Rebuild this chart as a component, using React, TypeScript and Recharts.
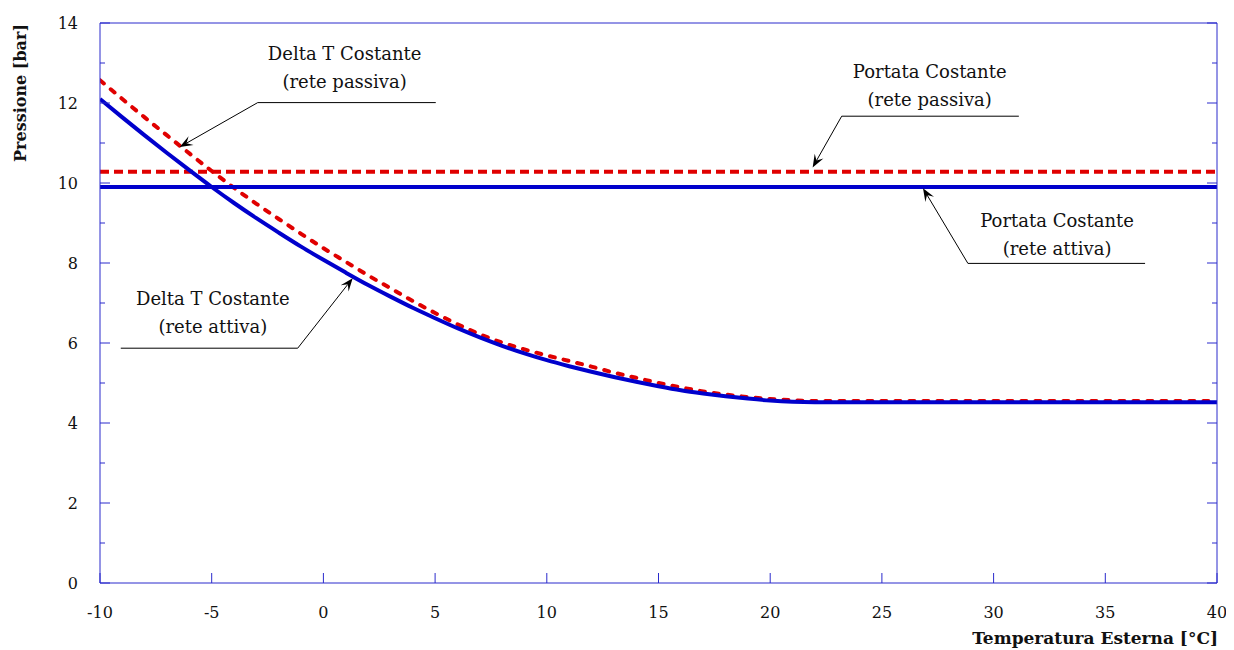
import React from "react";
import { LineChart, Line, XAxis, YAxis, ReferenceLine, ReferenceDot } from "recharts";

// temperature samples for the Delta T curves
const tempX = [
  -10, -9, -8, -7, -6, -5, -4, -3, -2, -1, 0, 1, 2, 3, 4, 5, 6, 7, 8, 9, 10,
  11, 12, 13, 14, 15, 16, 17, 18, 19, 20, 21, 22, 40,
];
const deltaTAttiva = [
  12.1, 11.64, 11.19, 10.75, 10.32, 9.9, 9.5, 9.12, 8.76, 8.41, 8.08, 7.76,
  7.45, 7.16, 6.88, 6.62, 6.37, 6.14, 5.93, 5.74, 5.57, 5.42, 5.28, 5.15,
  5.03, 4.92, 4.82, 4.74, 4.67, 4.61, 4.56, 4.53, 4.52, 4.52,
];
const deltaTPassiva = [
  12.57, 12.1, 11.64, 11.19, 10.74, 10.3, 9.88, 9.48, 9.1, 8.73, 8.37, 8.03,
  7.69, 7.37, 7.05, 6.75, 6.47, 6.22, 6.01, 5.84, 5.69, 5.55, 5.41, 5.26,
  5.13, 5.0, 4.89, 4.79, 4.71, 4.65, 4.6, 4.57, 4.55, 4.55,
];

// constant flow lines
const portataX = [-10, 40];
const portataAttiva = [9.9, 9.9];
const portataPassiva = [10.28, 10.28];

const xTicks = [-10, -5, 0, 5, 10, 15, 20, 25, 30, 35, 40];
const yTicks = [0, 1, 2, 3, 4, 5, 6, 7, 8, 9, 10, 11, 12, 13, 14];

// callouts: text anchor, underline and arrow, all in data units
const callouts = [
  { lines: ["Delta T Costante", "(rete passiva)"], text: [0.95, 13.07], under: [5.03, -2.94, 12.01], tip: [-6.43, 10.9] },
  { lines: ["Portata Costante", "(rete passiva)"], text: [27.14, 12.62], under: [31.13, 23.2, 11.67], tip: [21.9, 10.39] },
  { lines: ["Portata Costante", "(rete attiva)"], text: [32.84, 8.89], under: [36.78, 28.85, 7.99], tip: [26.84, 9.87] },
  { lines: ["Delta T Costante", "(rete attiva)"], text: [-4.95, 6.94], under: [-9.07, -1.15, 5.87], tip: [1.31, 7.62] },
];

const BLUE = "#0000cc";
const RED = "#e00000";
const FRAME = "#2a2acc";
const FONT = "DejaVu Serif";

const deltaData = tempX.map((x, i) => ({ x, attiva: deltaTAttiva[i], passiva: deltaTPassiva[i] }));
const portataAttivaData = portataX.map((x, i) => ({ x, y: portataAttiva[i] }));
const portataPassivaData = portataX.map((x, i) => ({ x, y: portataPassiva[i] }));

function BottomTick(props: any) {
  const { x, y, payload } = props;
  const axisY = y - 29;
  return (
    <g>
      <line x1={x} x2={x} y1={axisY} y2={axisY - 10} stroke={FRAME} />
      <text x={x} y={y} dy="0.35em" textAnchor="middle" fontFamily={FONT} fontSize={16} fill="#111">
        {payload.value}
      </text>
    </g>
  );
}

function TopTick(props: any) {
  const { x, y } = props;
  return <line x1={x} x2={x} y1={y} y2={y + 10} stroke={FRAME} />;
}

function LeftTick(props: any) {
  const { x, y, payload } = props;
  const axisX = x + 22;
  const major = payload.value % 2 === 0;
  return (
    <g>
      <line x1={axisX} x2={axisX + (major ? 10 : 5)} y1={y} y2={y} stroke={FRAME} />
      {major && (
        <text x={x} y={y} dy="0.35em" textAnchor="end" fontFamily={FONT} fontSize={16} fill="#111">
          {payload.value}
        </text>
      )}
    </g>
  );
}

function RightTick(props: any) {
  const { x, y, payload } = props;
  const major = payload.value % 2 === 0;
  return <line x1={x} x2={x - (major ? 10 : 5)} y1={y} y2={y} stroke={FRAME} />;
}

function Arrow(props: any) {
  const { x1, y1, x2, y2 } = props;
  const a = Math.atan2(y2 - y1, x2 - x1);
  const c = Math.cos(a);
  const s = Math.sin(a);
  const L = 13;
  const W = 5;
  const pts = [
    [x2, y2],
    [x2 - L * c - W * s, y2 - L * s + W * c],
    [x2 - 0.6 * L * c, y2 - 0.6 * L * s],
    [x2 - L * c + W * s, y2 - L * s - W * c],
  ]
    .map((p) => p.join(","))
    .join(" ");
  return (
    <g>
      <line x1={x1} y1={y1} x2={x2 - 0.6 * L * c} y2={y2 - 0.6 * L * s} stroke="#000" strokeWidth={1} />
      <polygon points={pts} fill="#000" />
    </g>
  );
}

function Underline(props: any) {
  const { x1, y1, x2, y2 } = props;
  return <line x1={x1} y1={y1} x2={x2} y2={y2} stroke="#000" strokeWidth={1} />;
}

function calloutText(lines: string[]) {
  return (props: any) => (
    <text x={props.cx} y={props.cy} textAnchor="middle" fontFamily={FONT} fontSize={18} fill="#111">
      <tspan x={props.cx} dy={0}>{lines[0]}</tspan>
      <tspan x={props.cx} dy={28}>{lines[1]}</tspan>
    </text>
  );
}

export default function App() {
  return (
    <div style={{ position: "relative", width: 1226, height: 642 }}>
      <LineChart width={1226} height={642} margin={{ top: 0, right: 0, bottom: 0, left: 0 }}>
        <XAxis
          dataKey="x"
          type="number"
          domain={[-10, 40]}
          ticks={xTicks}
          interval={0}
          allowDataOverflow
          height={67}
          tickSize={0}
          tickMargin={29}
          tickLine={false}
          axisLine={{ stroke: FRAME }}
          tick={BottomTick}
        />
        <XAxis
          xAxisId="top"
          orientation="top"
          type="number"
          domain={[-10, 40]}
          ticks={xTicks}
          interval={0}
          allowDataOverflow
          height={15}
          tickSize={0}
          tickMargin={0}
          tickLine={false}
          axisLine={{ stroke: FRAME }}
          tick={TopTick}
        />
        <YAxis
          type="number"
          domain={[0, 14]}
          ticks={yTicks}
          interval={0}
          allowDataOverflow
          width={92}
          tickSize={0}
          tickMargin={22}
          tickLine={false}
          axisLine={{ stroke: FRAME }}
          tick={LeftTick}
        />
        <YAxis
          yAxisId="right"
          orientation="right"
          type="number"
          domain={[0, 14]}
          ticks={yTicks}
          interval={0}
          allowDataOverflow
          width={17}
          tickSize={0}
          tickMargin={0}
          tickLine={false}
          axisLine={{ stroke: FRAME }}
          tick={RightTick}
        />

        <Line
          data={portataPassivaData}
          dataKey="y"
          type="linear"
          stroke={RED}
          strokeWidth={4}
          strokeDasharray="9 5"
          dot={false}
          activeDot={false}
          isAnimationActive={false}
        />
        <Line
          data={deltaData}
          dataKey="passiva"
          type="monotone"
          stroke={RED}
          strokeWidth={4}
          strokeDasharray="5 9"
          strokeLinecap="round"
          dot={false}
          activeDot={false}
          isAnimationActive={false}
        />
        <Line
          data={portataAttivaData}
          dataKey="y"
          type="linear"
          stroke={BLUE}
          strokeWidth={4}
          dot={false}
          activeDot={false}
          isAnimationActive={false}
        />
        <Line
          data={deltaData}
          dataKey="attiva"
          type="monotone"
          stroke={BLUE}
          strokeWidth={4}
          dot={false}
          activeDot={false}
          isAnimationActive={false}
        />

        {callouts.map((c, i) => (
          <ReferenceLine
            key={`u${i}`}
            segment={[
              { x: c.under[0], y: c.under[2] },
              { x: c.under[1], y: c.under[2] },
            ]}
            ifOverflow="visible"
            shape={Underline}
          />
        ))}
        {callouts.map((c, i) => (
          <ReferenceLine
            key={`a${i}`}
            segment={[
              { x: c.under[1], y: c.under[2] },
              { x: c.tip[0], y: c.tip[1] },
            ]}
            ifOverflow="visible"
            shape={Arrow}
          />
        ))}
        {callouts.map((c, i) => (
          <ReferenceDot
            key={`t${i}`}
            x={c.text[0]}
            y={c.text[1]}
            r={0}
            ifOverflow="visible"
            shape={calloutText(c.lines)}
          />
        ))}
      </LineChart>

      <div
        style={{
          position: "absolute",
          left: 13,
          top: 84.5,
          transform: "translate(-50%, -50%) rotate(-90deg)",
          whiteSpace: "nowrap",
          fontFamily: FONT,
          fontWeight: "bold",
          fontSize: 16,
          lineHeight: 1,
          color: "#111",
        }}
      >
        Pressione [bar]
      </div>
      <div
        style={{
          position: "absolute",
          right: 16,
          top: 630,
          transform: "translateY(-50%)",
          whiteSpace: "nowrap",
          fontFamily: FONT,
          fontWeight: "bold",
          fontSize: 17,
          lineHeight: 1,
          color: "#111",
        }}
      >
        Temperatura Esterna [°C]
      </div>
    </div>
  );
}
